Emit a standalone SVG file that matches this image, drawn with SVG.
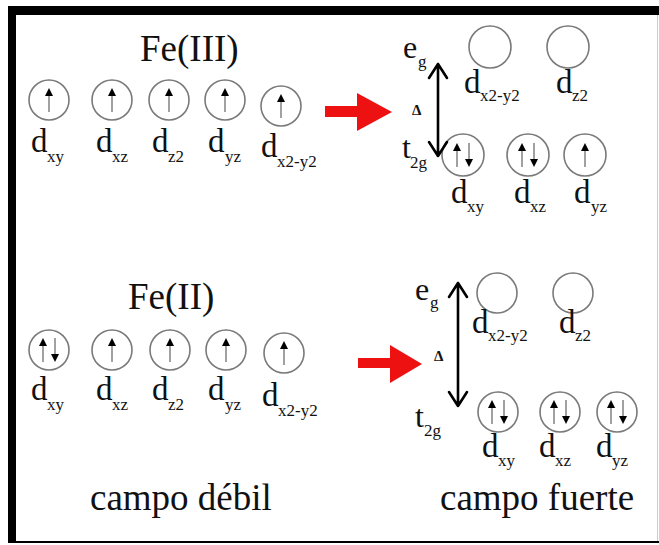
<svg xmlns="http://www.w3.org/2000/svg" width="659" height="545" viewBox="0 0 659 545">
  <style>
    text { font-family: "Liberation Serif", "Times New Roman", serif; fill: #111; }
    .big { font-size: 37px; }
    .d { font-size: 33px; }
    .sub { font-size: 17px; }
    .lvl { font-size: 32px; }
    .delta { font-size: 15px; font-weight: bold; }
    .orb { fill: none; stroke: #7a7a7a; stroke-width: 1.6; }
    .spin { stroke: #8a8a8a; stroke-width: 1.6; }
    .gap { stroke: #000; stroke-width: 2.6; fill: none; stroke-linecap: round; stroke-linejoin: round; }
    .red { fill: #ee1111; }
  </style>
  <defs>
    <!-- single electron, spin up -->
    <g id="up">
      <line class="spin" x1="0" y1="12" x2="0" y2="-4"/>
      <polygon points="-4,-4 4,-4 0,-12" fill="#000"/>
    </g>
    <!-- single electron, spin down -->
    <g id="down">
      <line class="spin" x1="0" y1="-12" x2="0" y2="4"/>
      <polygon points="-4,4 4,4 0,12" fill="#000"/>
    </g>
    <!-- paired electrons -->
    <g id="pair">
      <use href="#up" x="-6"/>
      <use href="#down" x="6"/>
    </g>
  </defs>

  <rect width="659" height="545" fill="#fff"/>

  <!-- frame -->
  <g id="frame">
    <rect x="8" y="6" width="651" height="9" fill="#000"/>
    <rect x="8" y="6" width="8" height="537" fill="#000"/>
    <rect x="8" y="541" width="651" height="2" fill="#000"/>
    <line x1="657.5" y1="15" x2="657.5" y2="541" stroke="#ccc" stroke-width="1"/>
  </g>

  <!-- Fe(III), weak field -->
  <g id="fe3-weak">
    <text class="big" x="140" y="61">Fe(III)</text>
    <circle class="orb" cx="49" cy="100" r="20"/><use href="#up" x="49" y="100"/>
    <circle class="orb" cx="112" cy="100" r="20"/><use href="#up" x="112" y="100"/>
    <circle class="orb" cx="169" cy="100" r="20"/><use href="#up" x="169" y="100"/>
    <circle class="orb" cx="225" cy="100" r="20"/><use href="#up" x="225" y="100"/>
    <circle class="orb" cx="281" cy="106" r="20"/><use href="#up" x="281" y="106"/>
    <text class="d" x="31" y="152">d</text><text class="sub" x="47" y="162">xy</text>
    <text class="d" x="96" y="152">d</text><text class="sub" x="112" y="162">xz</text>
    <text class="d" x="152" y="152">d</text><text class="sub" x="168" y="162">z2</text>
    <text class="d" x="208" y="152">d</text><text class="sub" x="225" y="162">yz</text>
    <text class="d" x="261" y="157">d</text><text class="sub" x="277" y="167">x2-y2</text>
  </g>

  <!-- Fe(III), strong field -->
  <g id="fe3-strong">
    <text class="lvl" x="403" y="58">e</text><text class="sub" x="418" y="67">g</text>
    <text class="lvl" x="402" y="158">t</text><text class="sub" x="410" y="168">2g</text>
    <text class="delta" x="412" y="115">Δ</text>
    <circle class="orb" cx="490" cy="47" r="21"/>
    <circle class="orb" cx="568" cy="47" r="21"/>
    <text class="d" x="464" y="93">d</text><text class="sub" x="480" y="101">x2-y2</text>
    <text class="d" x="556" y="93">d</text><text class="sub" x="572" y="101">z2</text>
    <circle class="orb" cx="463" cy="155" r="21"/><use href="#pair" x="463" y="155"/>
    <circle class="orb" cx="528" cy="155" r="21"/><use href="#pair" x="528" y="155"/>
    <circle class="orb" cx="585" cy="155" r="21"/><use href="#up" x="585" y="155"/>
    <text class="d" x="451" y="203">d</text><text class="sub" x="467" y="212">xy</text>
    <text class="d" x="514" y="203">d</text><text class="sub" x="530" y="212">xz</text>
    <text class="d" x="574" y="203">d</text><text class="sub" x="591" y="212">yz</text>
  </g>

  <!-- Fe(II), weak field -->
  <g id="fe2-weak">
    <text class="big" x="128" y="309">Fe(II)</text>
    <circle class="orb" cx="49" cy="350" r="20"/><use href="#pair" x="49" y="350"/>
    <circle class="orb" cx="112" cy="350" r="20"/><use href="#up" x="112" y="350"/>
    <circle class="orb" cx="170" cy="350" r="20"/><use href="#up" x="170" y="350"/>
    <circle class="orb" cx="226" cy="350" r="20"/><use href="#up" x="226" y="350"/>
    <circle class="orb" cx="284" cy="353" r="20"/><use href="#up" x="284" y="353"/>
    <text class="d" x="31" y="400">d</text><text class="sub" x="47" y="410">xy</text>
    <text class="d" x="96" y="400">d</text><text class="sub" x="112" y="410">xz</text>
    <text class="d" x="152" y="400">d</text><text class="sub" x="168" y="410">z2</text>
    <text class="d" x="208" y="400">d</text><text class="sub" x="225" y="410">yz</text>
    <text class="d" x="262" y="406">d</text><text class="sub" x="278" y="416">x2-y2</text>
    <text class="big" x="90" y="510">campo débil</text>
  </g>

  <!-- Fe(II), strong field -->
  <g id="fe2-strong">
    <text class="lvl" x="415" y="300">e</text><text class="sub" x="430" y="308">g</text>
    <text class="lvl" x="415" y="427">t</text><text class="sub" x="424" y="436">2g</text>
    <text class="delta" x="434" y="361">Δ</text>
    <circle class="orb" cx="497" cy="293" r="20"/>
    <circle class="orb" cx="573" cy="293" r="20"/>
    <text class="d" x="472" y="333">d</text><text class="sub" x="488" y="341">x2-y2</text>
    <text class="d" x="559" y="333">d</text><text class="sub" x="575" y="341">z2</text>
    <circle class="orb" cx="498" cy="412" r="20"/><use href="#pair" x="498" y="412"/>
    <circle class="orb" cx="560" cy="412" r="20"/><use href="#pair" x="560" y="412"/>
    <circle class="orb" cx="617" cy="412" r="20"/><use href="#pair" x="617" y="412"/>
    <text class="d" x="482" y="457">d</text><text class="sub" x="498" y="466">xy</text>
    <text class="d" x="539" y="457">d</text><text class="sub" x="555" y="466">xz</text>
    <text class="d" x="596" y="457">d</text><text class="sub" x="612" y="466">yz</text>
    <text class="big" x="440" y="510">campo fuerte</text>
  </g>

  <!-- connectors -->
  <g id="connectors">
    <path class="red" d="M325,106 H357 V93 L392,112 L357,131 V117 H325 Z"/>
    <path class="red" d="M358,358 H390 V345 L422,364 L390,383 V368 H358 Z"/>
    <path class="gap" d="M438,64 V156 M429,78 L438,64 L447,78 M429,142 L438,156 L447,142"/>
    <path class="gap" d="M458,283 V406 M449,297 L458,283 L467,297 M449,392 L458,406 L467,392"/>
  </g>
</svg>
